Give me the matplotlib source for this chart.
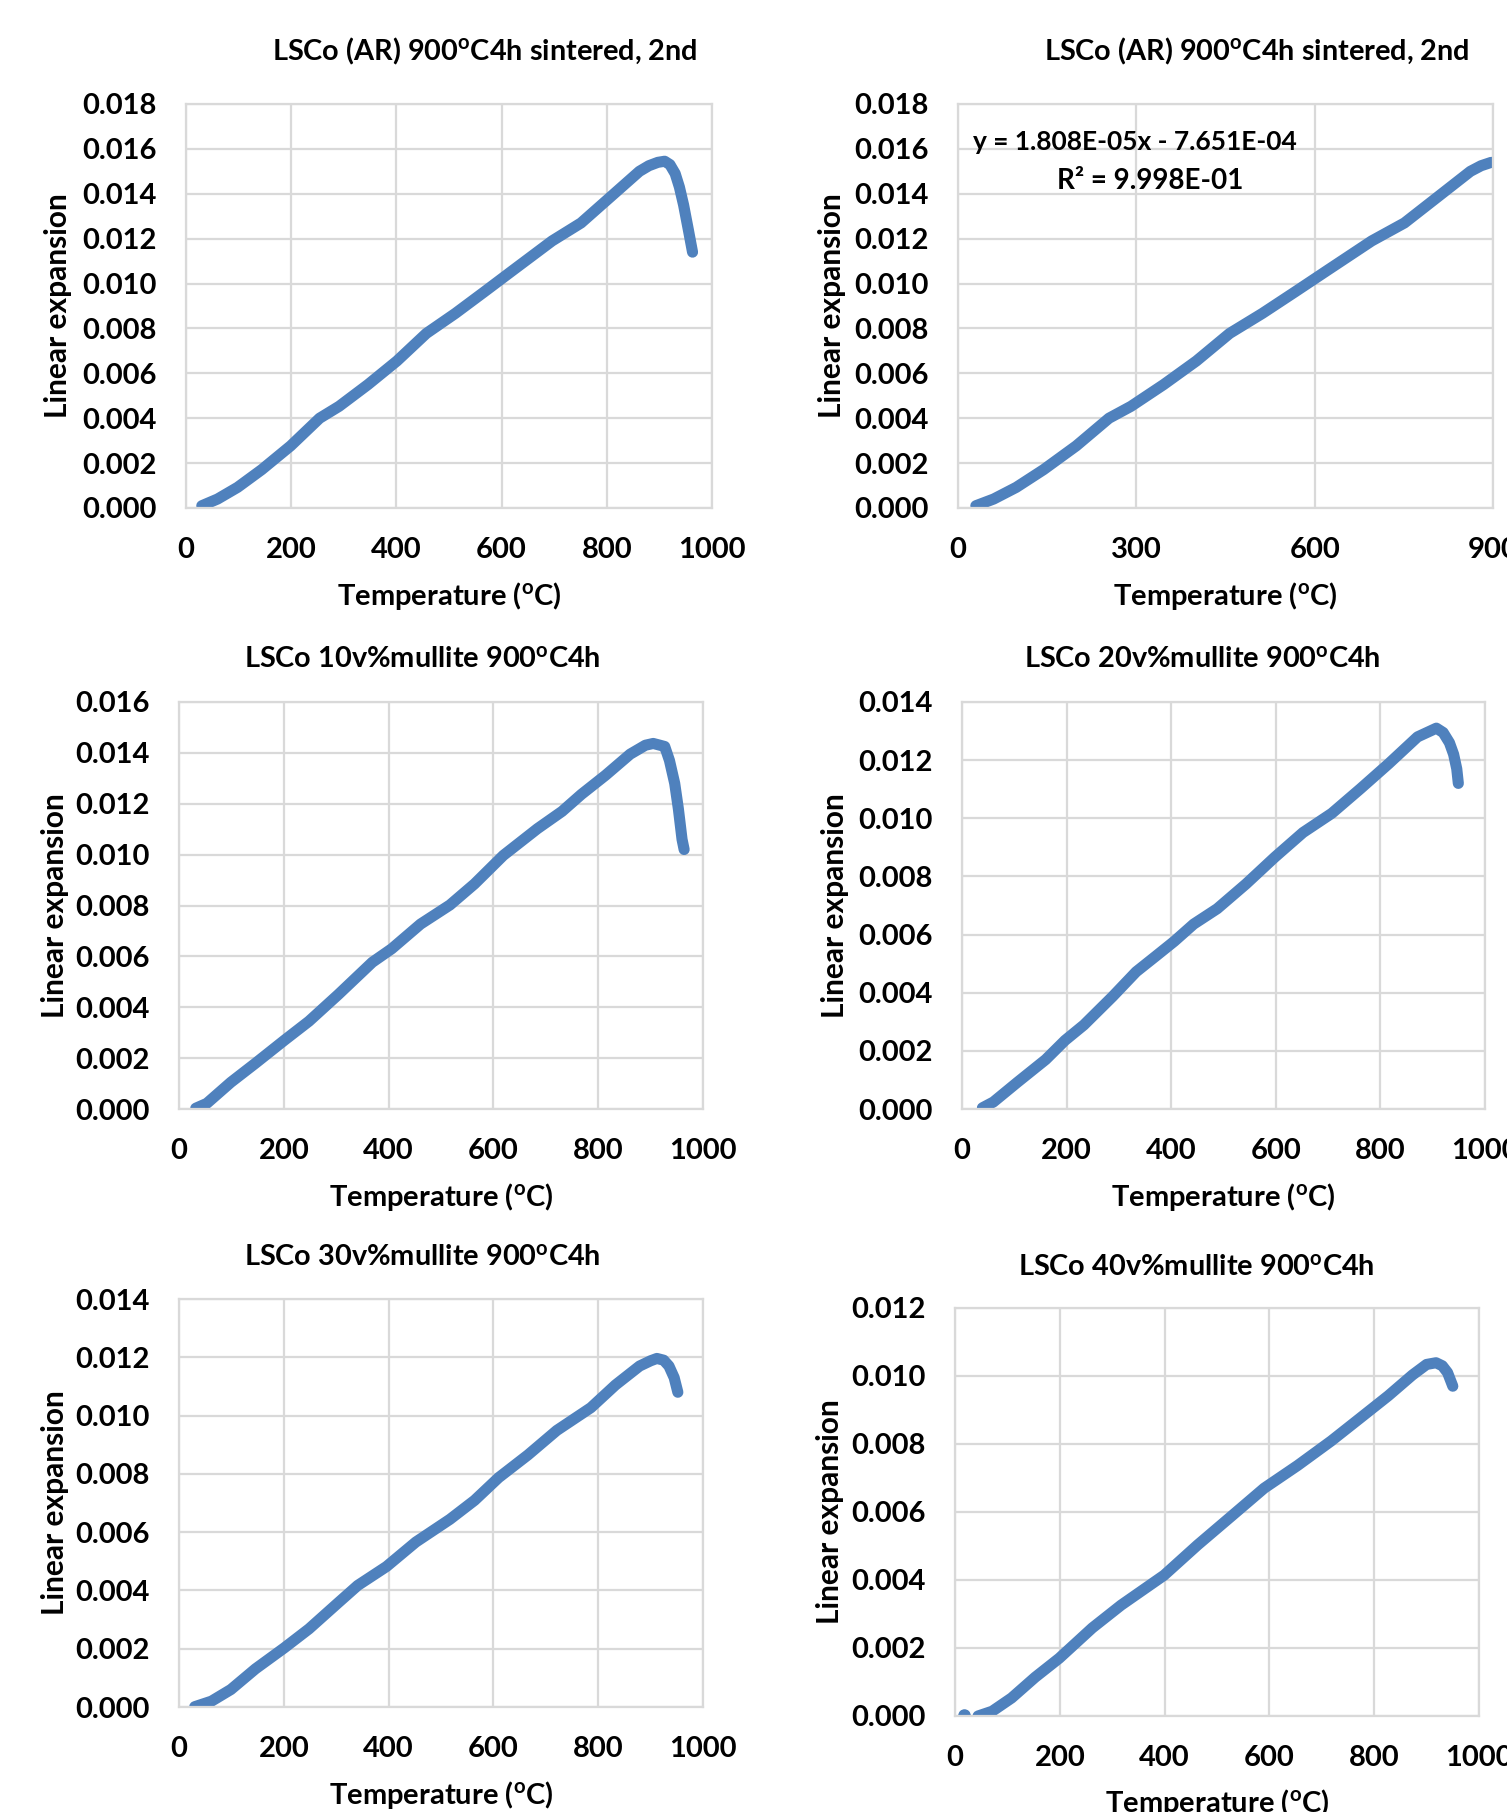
import matplotlib
matplotlib.use("Agg")
import matplotlib.pyplot as plt
import numpy as np

plt.rcParams['font.family'] = ['Lato', 'DejaVu Sans']
plt.rcParams['font.weight'] = 'bold'
plt.rcParams['mathtext.fontset'] = 'custom'
plt.rcParams['mathtext.rm'] = 'Lato:bold'
plt.rcParams['mathtext.it'] = 'Lato:bold'
plt.rcParams['mathtext.bf'] = 'Lato:bold'

# ---- data: temperature (degC) and linear expansion ----
ar_temp = [30, 60, 98, 144, 199, 254, 291, 346, 401, 457, 512, 567, 622, 696,
           751, 807, 862, 880, 897, 910, 920, 930, 938, 946, 955, 963]
ar_exp = [0.0001, 0.0004, 0.00092, 0.00171, 0.00277, 0.0040, 0.00453, 0.0055,
          0.00655, 0.00778, 0.00867, 0.00963, 0.0106, 0.0119, 0.0127, 0.01386,
          0.0150, 0.01525, 0.0154, 0.01545, 0.0153, 0.0149, 0.0143, 0.0135,
          0.0124, 0.0114]

m10_temp = [32, 53, 99, 146, 201, 248, 304, 369, 406, 461, 517, 564, 619, 684,
            731, 768, 814, 861, 890, 905, 918, 927, 936, 946, 953, 960, 964]
m10_exp = [0.00003, 0.00022, 0.00105, 0.0018, 0.0027, 0.00345, 0.0045, 0.00577,
           0.0063, 0.00727, 0.00802, 0.00885, 0.00997, 0.01102, 0.0117, 0.01237,
           0.01312, 0.01395, 0.0143, 0.01437, 0.0143, 0.01425, 0.0137, 0.0128,
           0.0118, 0.0106, 0.0102]

m20_temp = [39, 60, 106, 160, 197, 233, 288, 333, 370, 406, 443, 488, 543, 598,
            652, 707, 762, 816, 871, 895, 907, 920, 932, 940, 946, 949]
m20_exp = [0.00004, 0.00024, 0.00092, 0.0017, 0.00236, 0.00289, 0.00387,
           0.00472, 0.00525, 0.00577, 0.00636, 0.00689, 0.00774, 0.00866,
           0.00951, 0.01017, 0.01102, 0.01188, 0.0128, 0.0130, 0.0131, 0.01295,
           0.0126, 0.0122, 0.0117, 0.0112]

m30_temp = [30, 62, 99, 146, 201, 248, 304, 341, 396, 452, 517, 564, 610, 666,
            721, 786, 833, 879, 900, 912, 925, 935, 945, 952]
m30_exp = [0.00001, 0.0002, 0.0006, 0.00131, 0.00203, 0.00268, 0.00358, 0.00417,
           0.00482, 0.00566, 0.00644, 0.00709, 0.00787, 0.00865, 0.00949,
           0.01027, 0.01105, 0.0117, 0.01188, 0.01196, 0.0119, 0.0117, 0.0113,
           0.0108]

m40_temp = [18, 44, 71, 108, 153, 199, 262, 317, 399, 463, 527, 590, 654, 718,
            773, 827, 873, 900, 918, 930, 940, 950]
m40_exp = [0.00003, 0.0, 0.00014, 0.00053, 0.00114, 0.0017, 0.00259, 0.00326,
           0.00414, 0.00503, 0.00587, 0.0067, 0.00737, 0.00809, 0.00876,
           0.00942, 0.01003, 0.01034, 0.01039, 0.0103, 0.0101, 0.0097]

DEG = r"$^{\mathbf{o}}$"
titles = ["LSCo (AR) 900" + DEG + "C4h sintered, 2nd",
          "LSCo (AR) 900" + DEG + "C4h sintered, 2nd",
          "LSCo 10v%mullite 900" + DEG + "C4h",
          "LSCo 20v%mullite 900" + DEG + "C4h",
          "LSCo 30v%mullite 900" + DEG + "C4h",
          "LSCo 40v%mullite 900" + DEG + "C4h"]
x_label = "Temperature (" + DEG + "C)"
y_label = "Linear expansion"
fit_text = "y = 1.808E-05x - 7.651E-04"
r2_text = "R² = 9.998E-01"

BLUE = "#4F81BD"
GRID = "#D9D9D9"
W, H = 1507, 1812

fig = plt.figure(figsize=(W / 100, H / 100), dpi=100)


def make_axes(l, r, t, b):
    return fig.add_axes([l / W, 1 - b / H, (r - l) / W, (b - t) / H])


def style(ax, px, xmax, xstep, ymax, title, title_xy, xlab_y, ylab_x):
    l, r, t, b = px
    ax.set_xlim(0, xmax)
    ax.set_ylim(0, ymax)
    ax.set_xticks(np.arange(0, xmax + 1, xstep))
    ax.set_yticks(np.arange(0, ymax + 1e-9, 0.002))
    ax.yaxis.set_major_formatter(matplotlib.ticker.FormatStrFormatter('%.3f'))
    ax.grid(True, color=GRID, linewidth=1.6)
    ax.set_axisbelow(True)
    for s in ax.spines.values():
        s.set_color(GRID)
        s.set_linewidth(1.6)
    ax.tick_params(length=0, labelsize=21, pad=21)
    for lab in ax.get_xticklabels() + ax.get_yticklabels():
        lab.set_fontweight('bold')
    fig.text(title_xy[0] / W, 1 - title_xy[1] / H, title, ha='center',
             va='center', fontsize=20.8, fontweight='bold')
    fig.text((l + r) / 2 / W, 1 - xlab_y / H, x_label, ha='center',
             va='center', fontsize=21, fontweight='bold')
    fig.text(ylab_x / W, 1 - (t + b) / 2 / H, y_label, ha='center',
             va='center', rotation=90, fontsize=21.5, fontweight='bold')


def draw_curve(ax, t, e):
    ax.plot(t, e, color=BLUE, linewidth=8, solid_capstyle='round',
            solid_joinstyle='round', clip_on=True)


panels = [
    dict(px=(186, 712, 104, 508), xmax=1000, xstep=200, ymax=0.018,
         title_xy=(485, 51), xlab_y=596, ylab_x=58),
    dict(px=(958, 1493, 104, 508), xmax=900, xstep=300, ymax=0.018,
         title_xy=(1257, 51), xlab_y=596, ylab_x=832),
    dict(px=(179, 703, 702, 1109), xmax=1000, xstep=200, ymax=0.016,
         title_xy=(422, 660), xlab_y=1197, ylab_x=55),
    dict(px=(962, 1485, 702, 1109), xmax=1000, xstep=200, ymax=0.014,
         title_xy=(1202, 660), xlab_y=1197, ylab_x=835),
    dict(px=(179, 703, 1299, 1707), xmax=1000, xstep=200, ymax=0.014,
         title_xy=(422, 1257), xlab_y=1795, ylab_x=55),
    dict(px=(955, 1479, 1308, 1716), xmax=1000, xstep=200, ymax=0.012,
         title_xy=(1196, 1267), xlab_y=1803, ylab_x=830),
]

axes = []
for p, title in zip(panels, titles):
    ax = make_axes(*p['px'])
    style(ax, p['px'], p['xmax'], p['xstep'], p['ymax'], title, p['title_xy'],
          p['xlab_y'], p['ylab_x'])
    axes.append(ax)

# as-received sample, full run
draw_curve(axes[0], ar_temp, ar_exp)

# as-received sample, heating segment up to 900 C with its linear fit label
ar_t = np.array(ar_temp)
ar_e = np.array(ar_exp)
keep = ar_t <= 900
draw_curve(axes[1], ar_t[keep], ar_e[keep])
axes[1].text(0.331, 0.906, fit_text, transform=axes[1].transAxes,
             ha='center', va='center', fontsize=19, fontweight='bold')
axes[1].text(0.36, 0.81, r2_text, transform=axes[1].transAxes,
             ha='center', va='center', fontsize=20, fontweight='bold')

draw_curve(axes[2], m10_temp, m10_exp)
draw_curve(axes[3], m20_temp, m20_exp)
draw_curve(axes[4], m30_temp, m30_exp)

# 40 v% sample: first reading stands apart from the continuous trace
axes[5].plot(m40_temp[:1], m40_exp[:1], 'o', color=BLUE, markersize=8)
draw_curve(axes[5], m40_temp[1:], m40_exp[1:])

fig.savefig("out.png", dpi=100)
